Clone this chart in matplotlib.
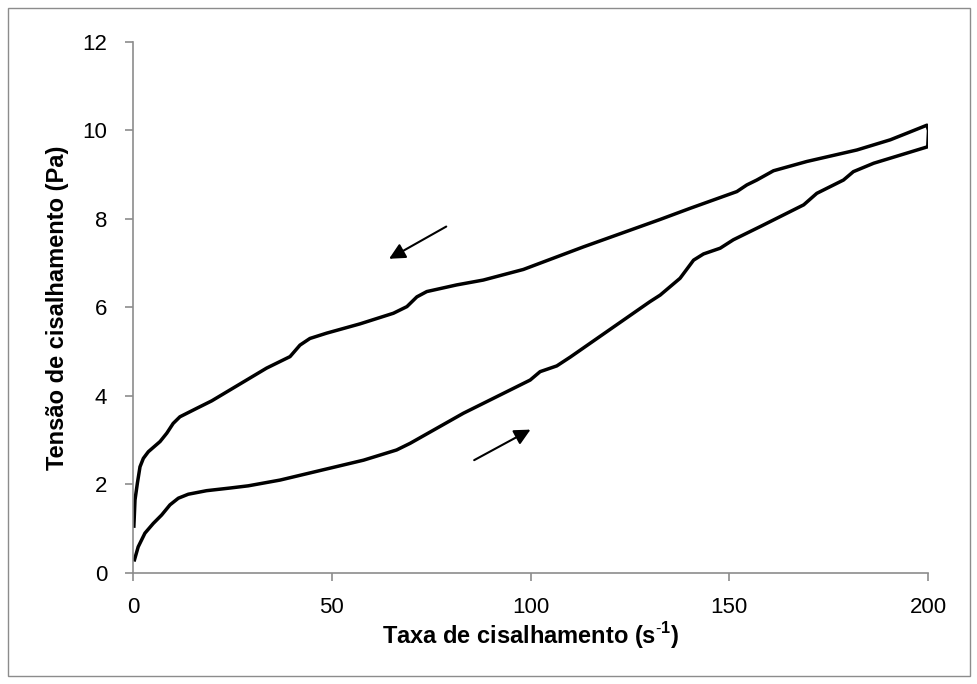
import matplotlib
matplotlib.use('Agg')
import matplotlib.pyplot as plt
from matplotlib.patches import Rectangle

plt.rcParams['font.family'] = 'Liberation Sans'
plt.rcParams['mathtext.fontset'] = 'custom'
plt.rcParams['mathtext.rm'] = 'Liberation Sans'
plt.rcParams['mathtext.bf'] = 'Liberation Sans:bold'

# Curva ascendente (taxa crescente)
taxa_subida = [0.25, 1.3, 3.0, 5.1, 7.2, 9.3, 11.4, 13.9, 18.5, 24.4, 29.0, 37.0, 49.6, 58.0, 66.3, 69.7,
               83.1, 99.9, 102.4, 106.6, 110.0, 130.0, 132.6, 137.6, 141.0, 143.5, 147.7, 151.0,
               157.8, 168.7, 172.0, 178.7, 181.2, 186.3, 199.8]
tensao_subida = [0.26, 0.59, 0.90, 1.12, 1.31, 1.54, 1.69, 1.78, 1.86, 1.92, 1.97, 2.10, 2.37, 2.55, 2.78, 2.93,
                 3.61, 4.36, 4.55, 4.68, 4.88, 6.13, 6.28, 6.66, 7.07, 7.21, 7.34, 7.53,
                 7.83, 8.32, 8.58, 8.88, 9.07, 9.26, 9.63]

# Curva descendente (taxa decrescente)
taxa_descida = [199.9, 200.1, 199.7, 194.7, 190.5, 182.1, 169.5, 161.1, 156.9, 154.4, 151.9, 140.1,
                132.6, 113.3, 98.2, 88.1, 81.4, 73.9, 71.4, 68.9, 65.5, 57.1, 48.7, 44.5, 42.0, 39.5,
                33.6, 19.8, 16.0, 11.8, 10.1, 8.5, 6.8, 3.85, 2.6, 1.76, 1.1, 0.5, 0.2]
tensao_descida = [9.63, 10.0, 10.12, 9.94, 9.79, 9.56, 9.30, 9.09, 8.88, 8.77, 8.62, 8.24,
                  7.99, 7.37, 6.86, 6.62, 6.51, 6.36, 6.24, 6.02, 5.87, 5.63, 5.42, 5.30, 5.15, 4.89,
                  4.63, 3.89, 3.72, 3.53, 3.38, 3.16, 2.97, 2.74, 2.59, 2.40, 2.03, 1.65, 1.02]

fig = plt.figure(figsize=(9.78, 6.84), dpi=100)
ax = fig.add_axes([0.136, 0.1623, 0.813, 0.7763])

ax.plot(taxa_subida + taxa_descida, tensao_subida + tensao_descida, color='black',
        linewidth=2.5, solid_joinstyle='round', solid_capstyle='butt')

# Setas indicando o sentido
ax.annotate('', xy=(63.8, 7.07), xytext=(79.4, 7.86),
            arrowprops=dict(arrowstyle='-|>', color='black', lw=1.5, mutation_scale=24))
ax.annotate('', xy=(100.6, 3.27), xytext=(85.2, 2.52),
            arrowprops=dict(arrowstyle='-|>', color='black', lw=1.5, mutation_scale=24))

ax.set_xlim(0, 200)
ax.set_ylim(0, 12)
ax.set_xticks([0, 50, 100, 150, 200])
ax.set_yticks([0, 2, 4, 6, 8, 10, 12])
for s in ['top', 'right']:
    ax.spines[s].set_visible(False)
for s in ['left', 'bottom']:
    ax.spines[s].set_color('#8c8c8c')
    ax.spines[s].set_linewidth(1.2)
ax.tick_params(direction='out', length=6, width=1.2, color='#8c8c8c', labelsize=16)
ax.tick_params(axis='x', pad=11)
ax.tick_params(axis='y', pad=12.5)

ax.set_xlabel('Taxa de cisalhamento (s$^{\\mathbf{\\text{-}1}}$)', fontsize=17, fontweight='bold')
ax.set_ylabel('Tensão de cisalhamento (Pa)', fontsize=17, fontweight='bold')
ax.xaxis.set_label_coords(0.5, -0.088)
ax.yaxis.set_label_coords(-0.081, 0.5)

# Moldura externa
fig.patches.append(Rectangle((8 / 978, 8 / 684), 962 / 978, 668 / 684, transform=fig.transFigure,
                             fill=False, edgecolor='#8c8c8c', linewidth=1.0))

plt.savefig('out.png', dpi=100)
